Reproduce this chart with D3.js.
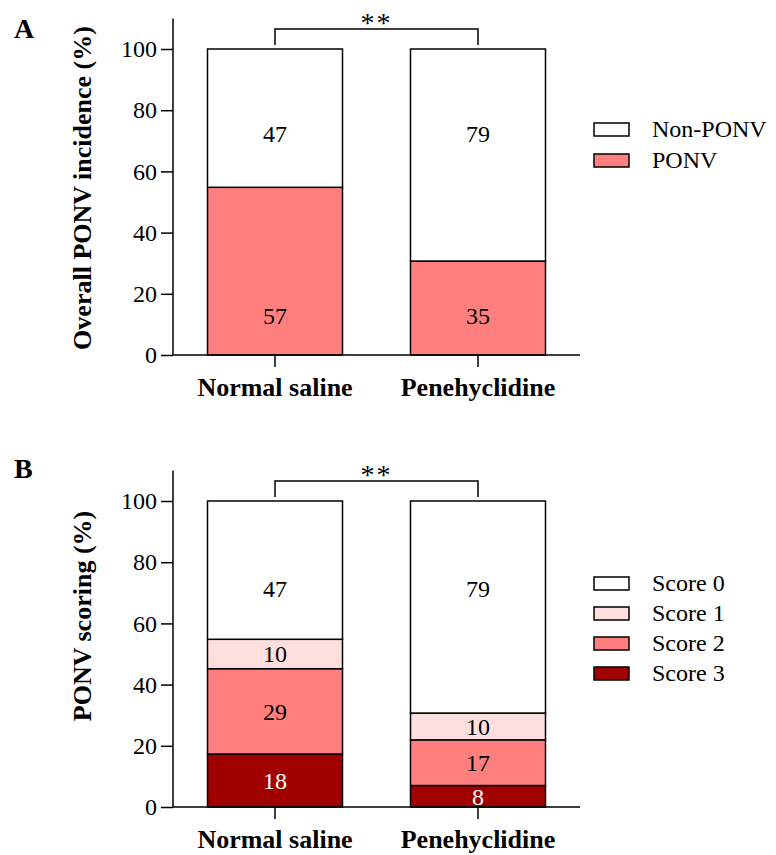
<!DOCTYPE html>
<html><head><meta charset="utf-8">
<script src="https://cdn.jsdelivr.net/npm/d3@7"></script>
<style>body{margin:0;background:#fff}svg{display:block}text{font-family:"Liberation Serif","Times New Roman",serif}</style>
</head><body><svg id="c" width="776" height="855"></svg>
<script>
// Data
const categories = ["Normal saline", "Penehyclidine"];
const totals = [104, 114];
// Panel A counts
const seriesA = ["Non-PONV", "PONV"];
const nonPonv = [47, 79];
const ponv = [57, 35];
// Panel B counts
const seriesB = ["Score 0", "Score 1", "Score 2", "Score 3"];
const score0 = [47, 79];
const score1 = [10, 10];
const score2 = [29, 17];
const score3 = [18, 8];
const yTicks = [0, 20, 40, 60, 80, 100];

const svg = d3.select("#c");
const FONT = "Liberation Serif";

function panel(opts) {
  const g = svg.append("g");
  const y = d3.scaleLinear().domain([0, 110]).range([opts.y0, opts.y0 - 336.6]);
  const x = d3.scaleBand().domain(categories).range([173, 580]).paddingInner(0.335).paddingOuter(0.17);

  const stackOrder = opts.stackOrder;
  categories.forEach((c, i) => {
    let cum = 0;
    stackOrder.forEach(s => {
      const pct = s.values[i] / totals[i] * 100;
      const lo = cum, hi = (s === stackOrder[stackOrder.length - 1]) ? 100 : cum + pct;
      cum = hi;
      g.append("rect")
        .attr("x", x(c)).attr("width", x.bandwidth())
        .attr("y", y(hi)).attr("height", y(lo) - y(hi))
        .attr("fill", s.color).attr("stroke", "#000").attr("stroke-width", 1.5);
      const ly = s.labelAt !== undefined ? s.labelAt : (lo + hi) / 2;
      g.append("text").attr("x", x(c) + x.bandwidth() / 2).attr("y", y(ly))
        .attr("dy", "0.35em").attr("text-anchor", "middle")
        .attr("font-family", FONT)
        .attr("font-size", 24).attr("fill", s.labelColor || "#000")
        .text(s.values[i]);
    });
  });

  // y axis
  const ya = d3.axisLeft(y).tickValues(yTicks).tickSize(12).tickPadding(4);
  const yg = g.append("g").attr("transform", "translate(173,0)").call(ya);
  yg.select(".domain").attr("d", `M0,${y(110)}V${y(0)}`).attr("stroke-width", 1.5);
  yg.selectAll(".tick line").attr("stroke-width", 1.5);
  yg.selectAll("text").attr("font-family", FONT).attr("font-size", 24).attr("fill", "#000");

  // x axis
  const xa = d3.axisBottom(x).tickSize(12).tickPadding(4);
  const xg = g.append("g").attr("transform", `translate(0,${y(0)})`).call(xa);
  xg.select(".domain").attr("d", `M173,0H580`).attr("stroke-width", 1.5);
  xg.selectAll(".tick line").attr("stroke-width", 1.5);
  xg.selectAll("text").attr("font-family", FONT).attr("font-size", 26)
    .attr("font-weight", "bold").attr("fill", "#000").attr("dy", "0.95em");

  // y label
  g.append("text").attr("transform", `translate(91,${opts.labelY}) rotate(-90)`)
    .attr("text-anchor", "middle").attr("font-size", 26).attr("font-weight", "bold")
    .attr("font-family", FONT)
    .text(opts.ylabel);

  // panel letter
  g.append("text").attr("x", 14).attr("y", opts.letterY).attr("font-size", 28)
    .attr("font-family", FONT)
    .attr("font-weight", "bold").text(opts.letter);

  // significance bracket
  const cx0 = x(categories[0]) + x.bandwidth() / 2, cx1 = x(categories[1]) + x.bandwidth() / 2;
  const by = y(100) - 20;
  g.append("path").attr("d", `M${cx0},${y(100) - 4}V${by}H${cx1}V${y(100) - 4}`)
    .attr("fill", "none").attr("stroke", "#000").attr("stroke-width", 1.5);
  g.append("text").attr("x", (cx0 + cx1) / 2).attr("y", by + 3).attr("text-anchor", "middle")
    .attr("font-family", FONT)
    .attr("font-size", 28).attr("letter-spacing", 2).text("**");

  // legend
  const leg = g.append("g");
  opts.legend.forEach((s, k) => {
    const ly = opts.legendY + k * opts.legendStep;
    leg.append("rect").attr("x", 594).attr("y", ly - 6).attr("width", 35).attr("height", 13)
      .attr("fill", s.color).attr("stroke", "#000").attr("stroke-width", 1.5);
    leg.append("text").attr("x", 652).attr("y", ly).attr("dy", "0.35em")
      .attr("font-family", FONT)
      .attr("font-size", 24).text(s.name);
  });
}

const cWhite = "#ffffff", cLight = "#ffdede", cPink = "#ff7f7f", cDark = "#a00000";

panel({
  y0: 355, letter: "A", letterY: 38, ylabel: "Overall PONV incidence (%)", labelY: 188,
  stackOrder: [
    { name: seriesA[1], values: ponv, color: cPink, labelAt: 13 },
    { name: seriesA[0], values: nonPonv, color: cWhite, labelAt: 72.5 }
  ],
  legend: [{ name: seriesA[0], color: cWhite }, { name: seriesA[1], color: cPink }],
  legendY: 129, legendStep: 31
});

panel({
  y0: 807, letter: "B", letterY: 478, ylabel: "PONV scoring (%)", labelY: 616,
  stackOrder: [
    { name: seriesB[3], values: score3, color: cDark, labelColor: "#fff" },
    { name: seriesB[2], values: score2, color: cPink },
    { name: seriesB[1], values: score1, color: cLight },
    { name: seriesB[0], values: score0, color: cWhite, labelAt: 71.5 }
  ],
  legend: [
    { name: seriesB[0], color: cWhite }, { name: seriesB[1], color: cLight },
    { name: seriesB[2], color: cPink }, { name: seriesB[3], color: cDark }
  ],
  legendY: 583, legendStep: 30
});
</script></body></html>
